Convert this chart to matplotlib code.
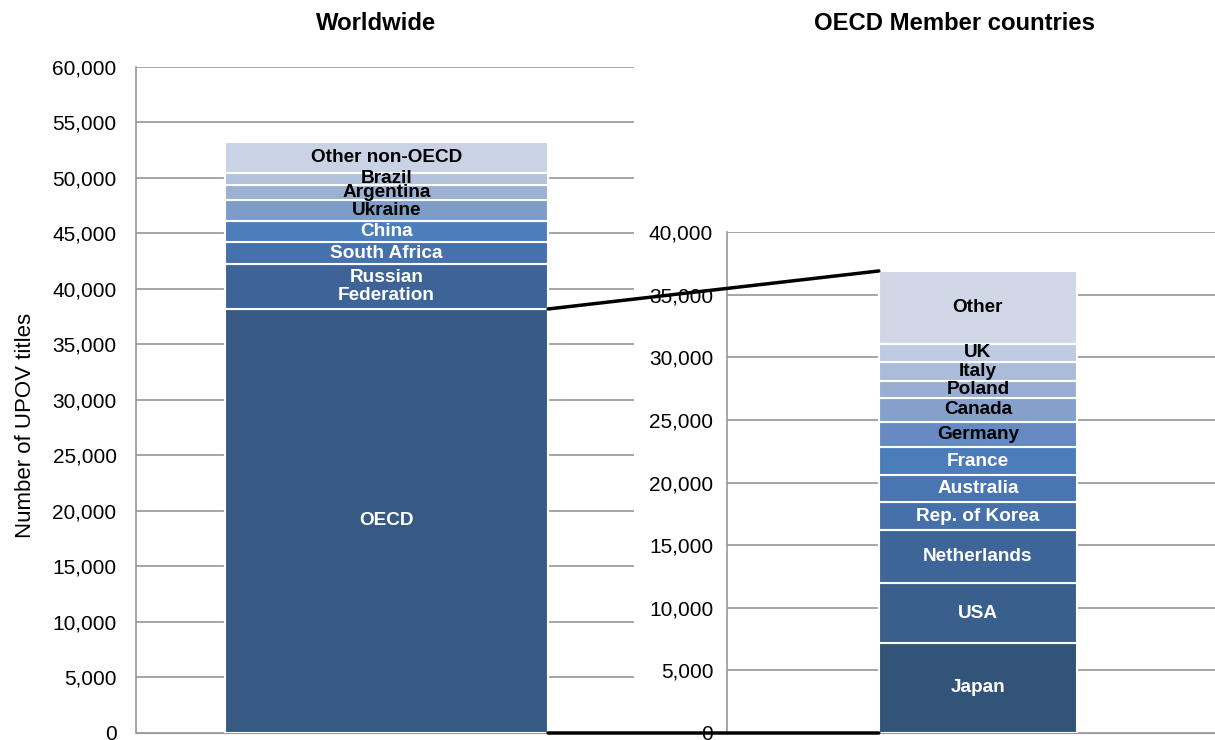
import matplotlib.pyplot as plt
from matplotlib.patches import ConnectionPatch
from matplotlib.ticker import FuncFormatter

plt.rcParams["font.family"] = ["Liberation Sans", "DejaVu Sans"]

# worldwide split (bottom to top)
world_labels = ["OECD", "Russian\nFederation", "South Africa", "China", "Ukraine",
                "Argentina", "Brazil", "Other non-OECD"]
world_values = [38200, 4050, 1980, 1890, 1900, 1350, 1080, 2790]
world_colors = ["#375a85", "#3e6497", "#4571ac", "#4c7ebb", "#7e9cc8",
                "#9cb0d4", "#b3c2dd", "#c9d3e5"]
world_text = ["white", "white", "white", "white", "black", "black", "black", "black"]

# OECD members split (bottom to top)
oecd_labels = ["Japan", "USA", "Netherlands", "Rep. of Korea", "Australia", "France",
               "Germany", "Canada", "Poland", "Italy", "UK", "Other"]
oecd_values = [7210, 4740, 4260, 2210, 2180, 2210, 2040, 1920, 1360, 1520, 1390, 5850]
oecd_colors = ["#335479", "#395f8d", "#3e6598", "#4570aa", "#4976b2", "#4c7dbb",
               "#668bc3", "#86a0cc", "#9aaed3", "#abbcda", "#becbe3", "#d0d8e8"]
oecd_text = ["white"] * 6 + ["black"] * 6

fig = plt.figure(figsize=(12.15, 7.4), dpi=100)
ax1 = fig.add_axes([0.1119, 0.00946, 0.4099, 0.9])
ax2 = fig.add_axes([0.5984, 0.00946, 0.4016, 0.677])

fmt = FuncFormatter(lambda v, p: f"{int(v):,}")


def stack(ax, labels, values, colors, tcolors, width):
    bottom = 0
    for lab, val, col, tc in zip(labels, values, colors, tcolors):
        ax.bar(0, val, width=width, bottom=bottom, color=col, edgecolor="white",
               linewidth=1.5, zorder=3)
        ax.text(0, bottom + val / 2, lab, ha="center", va="center", color=tc,
                fontsize=13.7, fontweight="bold", linespacing=1.12, zorder=4)
        bottom += val
    return bottom


def style(ax, top):
    ax.set_ylim(0, top)
    ax.set_yticks(range(0, top + 1, 5000))
    ax.yaxis.set_major_formatter(fmt)
    ax.yaxis.grid(True, color="#969696", linewidth=1.2, zorder=0)
    ax.set_axisbelow(True)
    ax.tick_params(axis="y", length=0, pad=14, labelsize=15)
    ax.tick_params(axis="x", length=0, labelbottom=False)
    for s in ["top", "right"]:
        ax.spines[s].set_visible(False)
    ax.spines["left"].set_color("#969696")
    ax.spines["bottom"].set_color("#969696")
    ax.spines["left"].set_linewidth(1.2)


w1 = 0.649
w2 = 0.406
stack(ax1, world_labels, world_values, world_colors, world_text, w1)
total2 = stack(ax2, oecd_labels, oecd_values, oecd_colors, oecd_text, w2)
ax1.set_xlim(-0.503, 0.497)
ax2.set_xlim(-0.514, 0.486)
style(ax1, 60000)
style(ax2, 40000)
ax2.tick_params(axis="y", pad=10)

ax1.set_ylabel("Number of UPOV titles", fontsize=16)
ax1.yaxis.set_label_coords(-0.201, 0.4625)

fig.text(376 / 1215, 1 - 24 / 740, "Worldwide", ha="center", va="center",
         fontsize=17.2, fontweight="bold")
fig.text(955 / 1215, 1 - 24 / 740, "OECD Member countries", ha="center", va="center",
         fontsize=17.2, fontweight="bold")

# connector lines between OECD block and the breakdown bar
for ya, yb in [(world_values[0], total2), (0, 0)]:
    con = ConnectionPatch(xyA=(w1 / 2, ya), coordsA=ax1.transData,
                          xyB=(-w2 / 2, yb), coordsB=ax2.transData,
                          color="black", linewidth=2.5, zorder=10)
    fig.add_artist(con)

plt.savefig("out.png", dpi=100)
